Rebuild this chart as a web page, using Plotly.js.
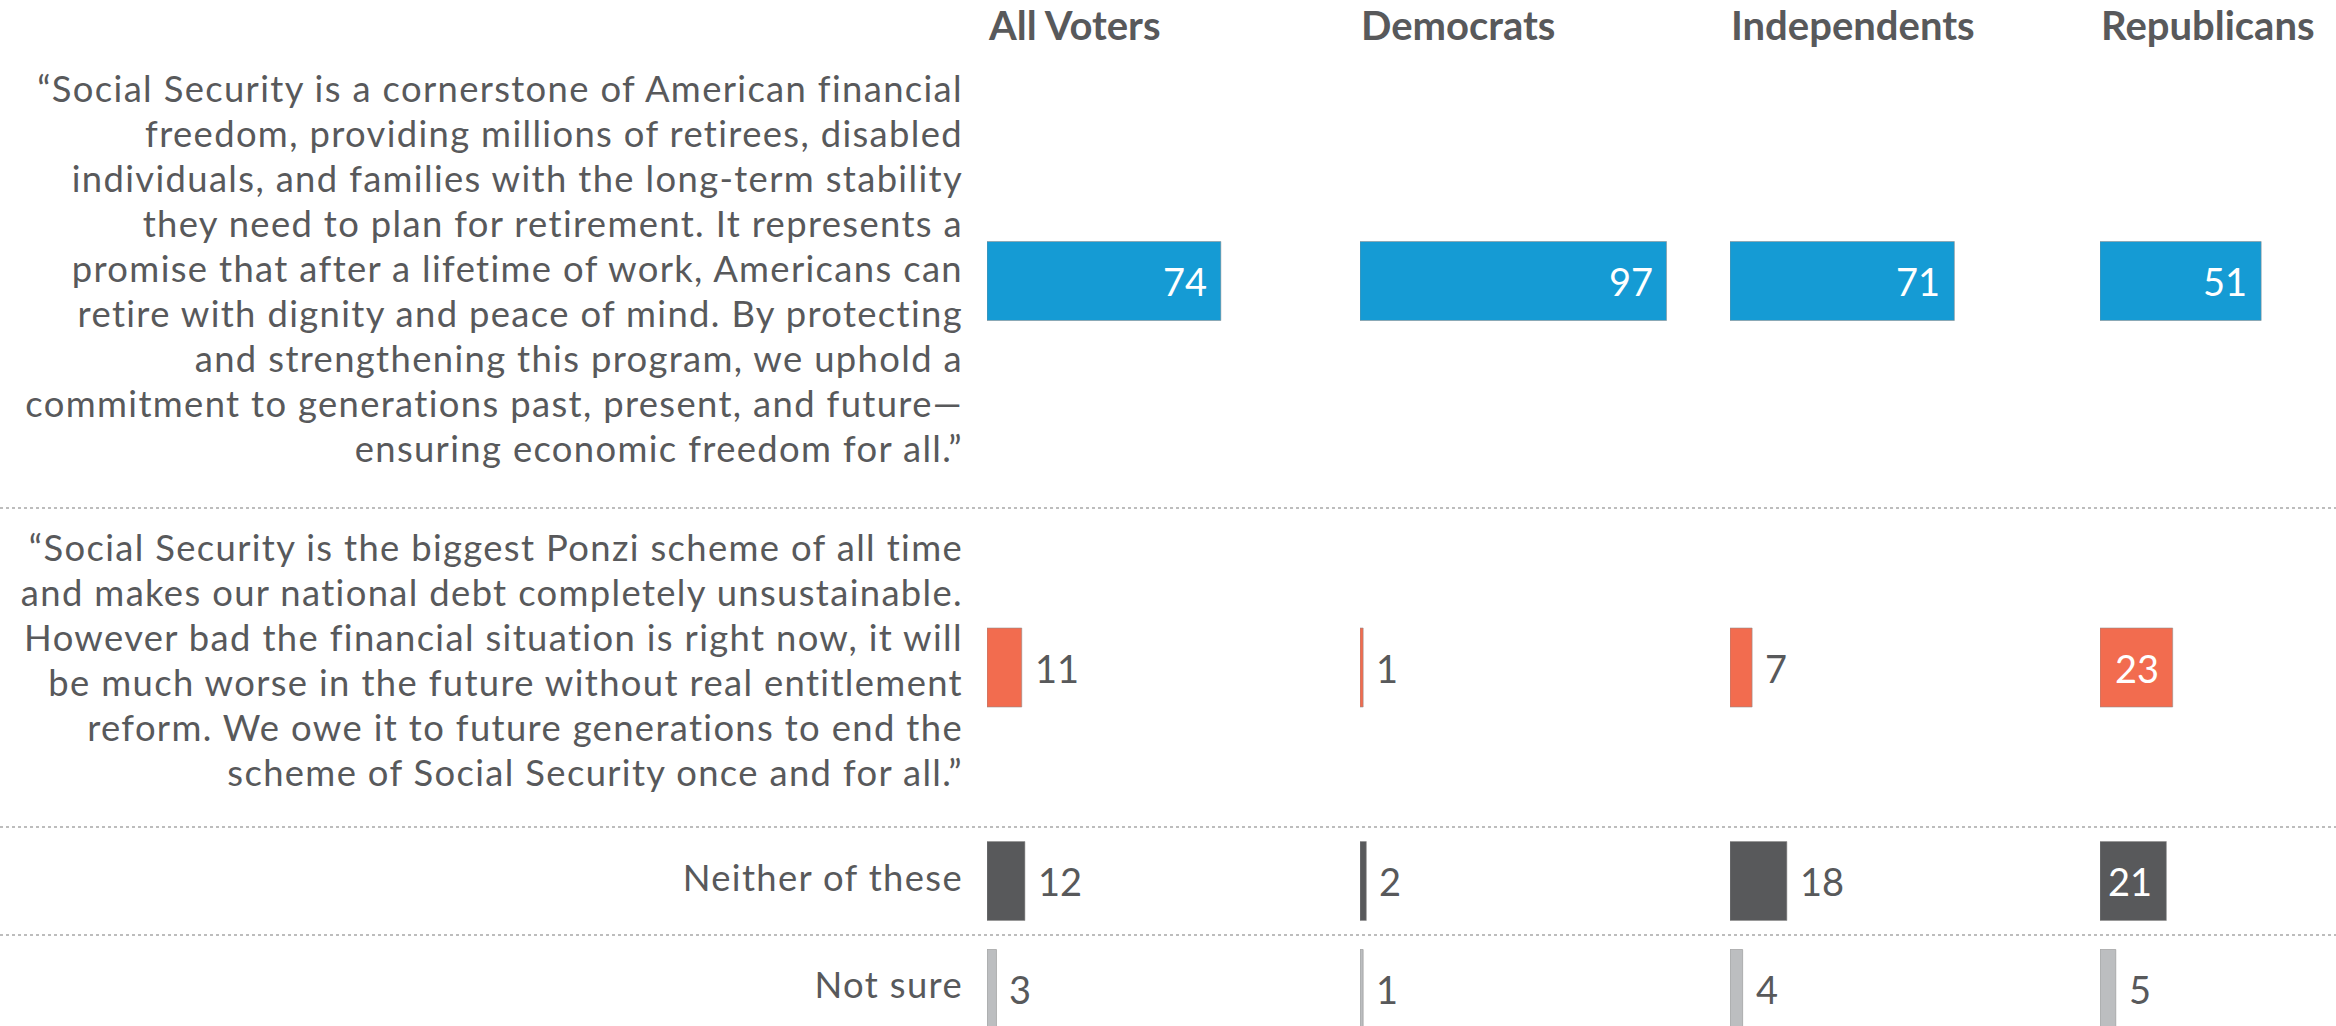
<!DOCTYPE html>
<html>
<head>
<meta charset="utf-8">
<script src="https://cdn.plot.ly/plotly-3.0.1.min.js"></script>
<style>
  html, body { margin: 0; padding: 0; background: #ffffff; overflow: hidden; }
  #chart { width: 2336px; height: 1026px; }
  #chart .ytick text { letter-spacing: 1.35px; }
</style>
</head>
<body>
<div id="chart"></div>
<script>
// ---------------- DATA ----------------
const groups = ["All Voters", "Democrats", "Independents", "Republicans"];

const answerLines = [
  [
    "“Social Security is a cornerstone of American financial",
    "freedom, providing millions of retirees, disabled",
    "individuals, and families with the long-term stability",
    "they need to plan for retirement. It represents a",
    "promise that after a lifetime of work, Americans can",
    "retire with dignity and peace of mind. By protecting",
    "and strengthening this program, we uphold a",
    "commitment to generations past, present, and future—",
    "ensuring economic freedom for all.”"
  ],
  [
    "“Social Security is the biggest Ponzi scheme of all time",
    "and makes our national debt completely unsustainable.",
    "However bad the financial situation is right now, it will",
    "be much worse in the future without real entitlement",
    "reform. We owe it to future generations to end the",
    "scheme of Social Security once and for all.”"
  ],
  ["Neither of these"],
  ["Not sure"]
];

const allVoters    = [74, 11, 12, 3];
const democrats    = [97, 1, 2, 1];
const independents = [71, 7, 18, 4];
const republicans  = [51, 23, 21, 5];

// ---------------- STYLE / LAYOUT ----------------
const seriesValues = [allVoters, democrats, independents, republicans];
const rowColors = ["#159BD4", "#F26C4F", "#58595B", "#BCBEC0"];
const textColor = "#58595B";
const fontFamily = "Lato, 'Open Sans', sans-serif";

const W = 2336, H = 1026;
const marginL = 987, marginT = 54;
const plotW = W - marginL;
const plotH = H - marginT;

const pxPerUnit = 3.16;
const panelStarts = [0, 373, 743, 1113];   // px from plot-area left
const panelWidth = 320;

const labelSize = 36.4;
const lineH = 45;            // px between text baselines
const barH = 79;             // bar thickness in px
const rowExtra = 94;         // row height beyond the text lines
const minRow = 108;
const baselineShift = [1, 6, 9.5, 9];   // text block baseline offset vs bar centre (layout tuning)

// y axis works in pixel units measured from the plot-area top
const rowHeights = answerLines.map(l => Math.max((l.length - 1) * lineH + rowExtra, minRow));
const rowTops = [];
let acc = 0;
rowHeights.forEach(h => { rowTops.push(acc); acc += h; });
const rowCenters = rowTops.map((t, i) => t + rowHeights[i] / 2);

// one tick per text line; Plotly puts the baseline 0.35em below the tick value
const lineTickVals = [];
const lineTickText = [];
answerLines.forEach((lines, ri) => {
  const n = lines.length;
  lines.forEach((txt, k) => {
    const baseline = rowCenters[ri] + (k - (n - 1) / 2) * lineH + baselineShift[ri];
    lineTickVals.push(baseline - 0.35 * labelSize);
    lineTickText.push(txt);
  });
});

const traces = [];
const annotations = [];
const layout = {
  width: W, height: H,
  margin: { l: marginL, r: 0, t: marginT, b: 0, pad: 0 },
  paper_bgcolor: "#ffffff",
  plot_bgcolor: "#ffffff",
  showlegend: false,
  barmode: "overlay",
  font: { family: fontFamily, color: textColor, size: 36 },
  yaxis: {
    range: [plotH, 0],
    tickmode: "array",
    tickvals: lineTickVals,
    ticktext: lineTickText,
    tickfont: { family: fontFamily, size: labelSize, color: textColor },
    showgrid: false, zeroline: false, showline: false,
    ticks: "", ticklabelstandoff: 23,
    fixedrange: true
  },
  shapes: [],
  annotations: annotations
};

groups.forEach((g, gi) => {
  const axId = gi === 0 ? "x" : "x" + (gi + 1);
  const axKey = gi === 0 ? "xaxis" : "xaxis" + (gi + 1);
  const start = panelStarts[gi];
  const end = Math.min(start + panelWidth, plotW);
  layout[axKey] = {
    domain: [start / plotW, end / plotW],
    range: [0, (end - start) / pxPerUnit],
    anchor: "y",
    showgrid: false, zeroline: false, showline: false,
    showticklabels: false, ticks: "", fixedrange: true
  };
  const vals = seriesValues[gi];
  traces.push({
    type: "bar",
    orientation: "h",
    x: vals,
    y: rowCenters,
    width: barH,
    xaxis: axId,
    yaxis: "y",
    marker: { color: rowColors, line: { color: "rgba(140,140,140,0.55)", width: 1 } },
    hoverinfo: "skip"
  });
  // column header
  annotations.push({
    xref: axId + " domain", x: 0, xanchor: "left",
    yref: "paper", y: 1 + marginT / plotH, yanchor: "top",
    text: "<b>" + g + "</b>", showarrow: false,
    font: { family: fontFamily, size: 40, color: textColor },
    borderpad: 0
  });
  // value labels
  vals.forEach((v, ri) => {
    const inside = v >= 20;
    annotations.push({
      xref: axId, x: v, yref: "y", y: rowCenters[ri],
      xanchor: inside ? "right" : "left",
      xshift: inside ? -13 : 12,
      yanchor: "middle",
      text: String(v), showarrow: false,
      font: { family: fontFamily, size: 38, color: inside ? "#ffffff" : textColor },
      borderpad: 0
    });
  });
});

// dotted separators between rows
for (let i = 1; i < rowTops.length; i++) {
  layout.shapes.push({
    type: "line", xref: "paper", yref: "y",
    x0: -marginL / plotW, x1: 1,
    y0: rowTops[i], y1: rowTops[i],
    line: { color: "#BDBDBD", width: 2, dash: "dot" }
  });
}

Plotly.newPlot("chart", traces, layout, { staticPlot: true, displayModeBar: false });
</script>
</body>
</html>
